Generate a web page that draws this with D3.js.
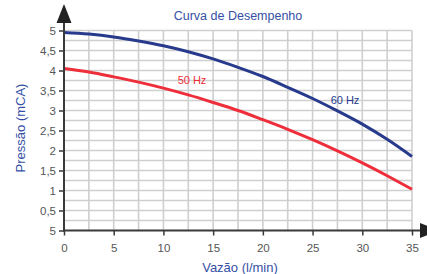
<!DOCTYPE html>
<html>
<head>
<meta charset="utf-8">
<script src="https://cdn.jsdelivr.net/npm/d3@7"></script>
<style>
  body { margin: 0; background: #fff; }
  svg { display: block; font-family: "Liberation Sans", Arial, sans-serif; }
</style>
</head>
<body>
<div id="chart"></div>
<script>
// vazão (l/min) and pressão (mCA)
const flow = [0, 2.5, 5, 7.5, 10, 12.5, 15, 17.5, 20, 22.5, 25, 27.5, 30, 32.5, 35]
const head60 = [4.95, 4.91, 4.84, 4.74, 4.62, 4.47, 4.29, 4.08, 3.85, 3.58, 3.30, 2.99, 2.66, 2.28, 1.85]
const head50 = [4.05, 3.96, 3.84, 3.71, 3.56, 3.39, 3.20, 3.00, 2.77, 2.53, 2.27, 1.99, 1.69, 1.37, 1.03]

const xTicks = [0, 5, 10, 15, 20, 25, 30, 35]
const yTicks = [0, 0.5, 1, 1.5, 2, 2.5, 3, 3.5, 4, 4.5, 5]
// the bottom label really says 5 in the original
const yTickLabels = ['5', '0,5', '1', '1,5', '2', '2,5', '3', '3,5', '4', '4,5', '5']

const W = 427, H = 274
const svg = d3.select('#chart').append('svg')
    .attr('width', W)
    .attr('height', H)

const x = d3.scaleLinear().domain([0, 35]).range([64, 412])
const y = d3.scaleLinear().domain([0, 5]).range([230.5, 30.5])

const blue = '#273a8c'
const red = '#ee2e3a'
const labelBlue = '#3550a5'
const axisCol = '#3a3a3a'

// grid
const grid = svg.append('g')
grid.selectAll('line.v')
    .data(d3.range(0, 35.01, 2.5))
    .enter().append('line')
    .attr('x1', d => x(d)).attr('x2', d => x(d))
    .attr('y1', y(0)).attr('y2', y(5))
    .attr('stroke', '#cfcfcf').attr('stroke-width', 1.6)
grid.selectAll('line.h')
    .data(d3.range(0.25, 5.01, 0.25))
    .enter().append('line')
    .attr('x1', x(0)).attr('x2', x(35))
    .attr('y1', d => y(d)).attr('y2', d => y(d))
    .attr('stroke', '#cfcfcf').attr('stroke-width', 1.6)

// curves
const line = d3.line()
    .x((d, i) => x(flow[i]))
    .y(d => y(d))
    .curve(d3.curveCatmullRom)

svg.append('path').datum(head50)
    .attr('d', line)
    .attr('fill', 'none').attr('stroke', red).attr('stroke-width', 3)
svg.append('path').datum(head60)
    .attr('d', line)
    .attr('fill', 'none').attr('stroke', blue).attr('stroke-width', 3)

// axes
const yAxis = svg.append('g')
    .attr('transform', 'translate(' + x(0) + ',0)')
    .call(d3.axisLeft(y).tickValues(yTicks).tickSize(5).tickPadding(3)
        .tickFormat((d, i) => yTickLabels[i]))
const xAxis = svg.append('g')
    .attr('transform', 'translate(0,' + y(0) + ')')
    .call(d3.axisBottom(x).tickValues(xTicks).tickSize(5).tickPadding(8))

;[yAxis, xAxis].forEach(a => {
    a.select('.domain').remove()
    a.selectAll('line').attr('stroke', axisCol).attr('stroke-width', 1.5)
    a.selectAll('text').attr('fill', '#555').style('font-size', '11.5px')
        .style('font-family', '"Liberation Sans", Arial, sans-serif')
})

svg.append('line')
    .attr('x1', x(0)).attr('x2', x(0))
    .attr('y1', y(0) + 1).attr('y2', 22)
    .attr('stroke', axisCol).attr('stroke-width', 2)
svg.append('line')
    .attr('x1', x(0) - 1).attr('x2', 421)
    .attr('y1', y(0)).attr('y2', y(0))
    .attr('stroke', axisCol).attr('stroke-width', 2)
// arrow heads
svg.append('path')
    .attr('d', 'M' + (x(0) - 7.5) + ',23L' + x(0) + ',4L' + (x(0) + 7.5) + ',23Z')
    .attr('fill', '#222')
svg.append('path')
    .attr('d', 'M420,' + (y(0) - 7.5) + 'L439,' + y(0) + 'L420,' + (y(0) + 7.5) + 'Z')
    .attr('fill', '#222')

// texts
svg.append('text')
    .attr('x', 238).attr('y', 19.5)
    .attr('text-anchor', 'middle')
    .attr('fill', labelBlue)
    .style('font-size', '12.5px')
    .text('Curva de Desempenho')

svg.append('text')
    .attr('x', 240).attr('y', 272)
    .attr('text-anchor', 'middle')
    .attr('fill', labelBlue)
    .style('font-size', '13px')
    .text('Vazão (l/min)')

svg.append('text')
    .attr('transform', 'translate(25,128) rotate(-90)')
    .attr('text-anchor', 'middle')
    .attr('fill', labelBlue)
    .style('font-size', '13px')
    .text('Pressão (mCA)')

svg.append('text')
    .attr('x', 192).attr('y', 84)
    .attr('text-anchor', 'middle')
    .attr('fill', red)
    .style('font-size', '11px')
    .text('50 Hz')

svg.append('text')
    .attr('x', 345).attr('y', 104)
    .attr('text-anchor', 'middle')
    .attr('fill', blue)
    .style('font-size', '11px')
    .text('60 Hz')
</script>
</body>
</html>
